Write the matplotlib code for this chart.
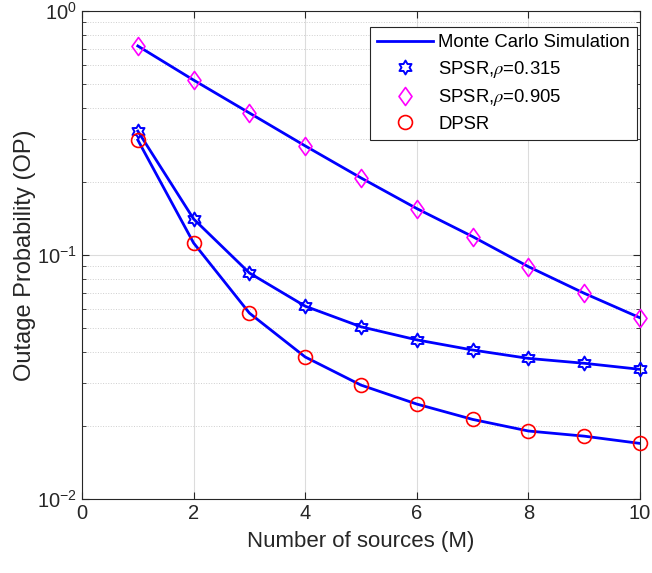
import matplotlib
matplotlib.use("Agg")
import matplotlib.pyplot as plt
from matplotlib.path import Path
from matplotlib.ticker import LogLocator, NullFormatter, FixedLocator

plt.rcParams['font.family'] = ['Liberation Sans', 'DejaVu Sans']
plt.rcParams['mathtext.fontset'] = 'stix'

M = [1, 2, 3, 4, 5, 6, 7, 8, 9, 10]
op_spsr_0905 = [0.719, 0.521, 0.382, 0.280, 0.207, 0.155, 0.119, 0.0896, 0.0697, 0.0553]
op_spsr_0315 = [0.322, 0.1405, 0.0844, 0.0617, 0.0508, 0.0449, 0.0408, 0.0377, 0.0360, 0.0340]
op_dpsr = [0.296, 0.112, 0.0578, 0.0382, 0.0293, 0.0245, 0.0212, 0.0190, 0.0181, 0.0169]

hexagram = Path.unit_regular_star(6, 0.577)
diamond = Path([(0, 1), (0.72, 0), (0, -1), (-0.72, 0), (0, 1)],
               [Path.MOVETO, Path.LINETO, Path.LINETO, Path.LINETO, Path.CLOSEPOLY])

blue = '#0000ff'
star_kw = dict(ls='none', marker=hexagram, ms=10, mfc='none', mec=blue, mew=1.4)
dia_kw = dict(ls='none', marker=diamond, ms=13, mfc='none', mec='#ff00ff', mew=1.2)
circ_kw = dict(ls='none', marker='o', ms=10, mfc='none', mec='#ff0000', mew=1.2)

fig = plt.figure(figsize=(6.52, 5.73), dpi=100)
ax = fig.add_axes([0.1258, 0.1291, 0.8558, 0.8517])

for y in (op_spsr_0905, op_spsr_0315, op_dpsr):
    ax.plot(M, y, color=blue, lw=2, zorder=3)
ax.plot(M, op_spsr_0315, zorder=4, clip_on=False, **star_kw)
ax.plot(M, op_spsr_0905, zorder=4, clip_on=False, **dia_kw)
ax.plot(M, op_dpsr, zorder=4, clip_on=False, **circ_kw)

ax.set_yscale('log')
ax.set_xlim(0, 10)
ax.set_ylim(1e-2, 1)
ax.xaxis.set_major_locator(FixedLocator([0, 2, 4, 6, 8, 10]))
ax.yaxis.set_major_locator(LogLocator(base=10, numticks=10))
ax.yaxis.set_minor_locator(LogLocator(base=10, subs=range(2, 10), numticks=10))
ax.yaxis.set_minor_formatter(NullFormatter())

ax.grid(True, which='major', color='#dcdcdc', lw=0.8)
ax.grid(True, which='minor', axis='y', color='#cfcfcf', lw=0.7, ls=':')
ax.set_axisbelow(True)
ax.tick_params(which='both', direction='in', top=True, right=True,
               labelsize=14.5, colors='#262626')
ax.tick_params(which='major', length=5)
ax.tick_params(which='minor', length=3)
for s in ax.spines.values():
    s.set_color('#262626')
    s.set_linewidth(0.8)

ax.set_xlabel('Number of sources (M)', fontsize=16, color='#262626', labelpad=6)
ax.set_ylabel('Outage Probability (OP)', fontsize=17, color='#262626', labelpad=1)

h_line, = ax.plot([], [], color=blue, lw=2)
h_star, = ax.plot([], [], **star_kw)
h_dia, = ax.plot([], [], **dia_kw)
h_circ, = ax.plot([], [], **circ_kw)
leg = ax.legend([h_line, h_star, h_dia, h_circ],
                ['Monte Carlo Simulation', r'SPSR,$\rho$=0.315',
                 r'SPSR,$\rho$=0.905', 'DPSR'],
                loc='upper right', bbox_to_anchor=(0.995, 0.967),
                fontsize=13.3, fancybox=False, framealpha=1,
                edgecolor='#262626', borderaxespad=0, handlelength=3.0,
                handletextpad=0.3, labelspacing=0.4, borderpad=0.4)
leg.get_frame().set_linewidth(0.8)

fig.savefig('out.png', dpi=100)
